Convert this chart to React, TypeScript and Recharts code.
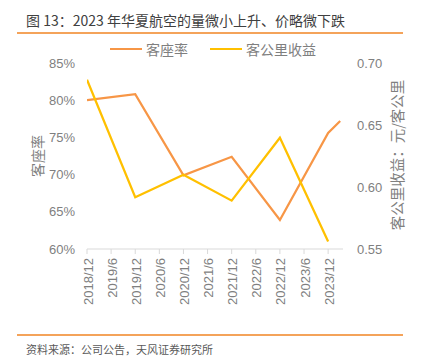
import React from 'react';
import { LineChart, Line, XAxis, YAxis } from 'recharts';

const periods = ['2018/12', '2019/12', '2020/12', '2021/12', '2022/12', '2023/12', '2024/3'];
const loadFactor = [80.0, 80.8, 69.9, 72.4, 63.9, 75.6, 77.2];
const yieldPerKm: (number | null)[] = [0.6865, 0.5917, 0.6098, 0.589, 0.6397, 0.5561, null];
const tickLabels = ['2018/12', '2019/6', '2019/12', '2020/6', '2020/12', '2021/6', '2021/12', '2022/6', '2022/12', '2023/6', '2023/12'];
const leftTicks = [60, 65, 70, 75, 80, 85];
const rightTicks = [0.55, 0.6, 0.65, 0.7];

const toMonth = (s: string) => {
  const [y, m] = s.split('/').map(Number);
  return (y - 2018) * 12 + m - 12;
};

const data = periods.map((p, i) => ({ m: toMonth(p), lf: loadFactor[i], yl: yieldPerKm[i] }));
const tickMonths = tickLabels.map(toMonth);
const labelByMonth: Record<number, string> = {};
tickLabels.forEach((l) => { labelByMonth[toMonth(l)] = l; });

const FONT = '"Liberation Sans", "Noto Sans CJK SC", sans-serif';
const CJK = '"Noto Sans CJK SC", "Liberation Sans", sans-serif';
const GRAY = '#7f7f7f';
const ORANGE = '#F79646';
const YELLOW = '#FFC000';

const XTick = (props: any) => {
  const { x, y, payload } = props;
  return (
    <text
      x={x + 1}
      y={y}
      transform={`rotate(-90 ${x + 1} ${y})`}
      textAnchor="end"
      dy="0.35em"
      fill={GRAY}
      fontSize={13}
      fontFamily={FONT}
    >
      {labelByMonth[payload.value]}
    </text>
  );
};

export default function App() {
  return (
    <div style={{ position: 'absolute', left: 0, top: 0, width: 422, height: 356, background: '#fff' }}>
      <div style={{ position: 'absolute', left: 26, top: 10, fontSize: 14, lineHeight: '20px', color: '#404040', fontFamily: CJK, whiteSpace: 'nowrap' }}>
        图 13：2023 年华夏航空的量微小上升、价略微下跌
      </div>
      <div style={{ position: 'absolute', left: 17, top: 32, width: 386, height: 2, background: '#F4A35A' }} />
      <LineChart
        width={422}
        height={356}
        data={data}
        margin={{ top: 63, right: 0, bottom: 0, left: 0 }}
      >
        <XAxis
          dataKey="m"
          type="number"
          domain={[0, 63.7]}
          ticks={tickMonths}
          interval={0}
          allowDataOverflow
          height={107}
          stroke="#d9d9d9"
          tickLine={{ stroke: '#d9d9d9' }}
          tickSize={5}
          tickMargin={4}
          tick={<XTick />}
        />
        <YAxis
          yAxisId="left"
          domain={[60, 85]}
          ticks={leftTicks}
          width={87}
          axisLine={false}
          tickLine={false}
          tickSize={0}
          tickMargin={12}
          tickFormatter={(v: number) => `${v}%`}
          tick={{ fill: GRAY, fontSize: 13, fontFamily: FONT }}
          label={{
            content: () => (
              <text x={37} y={156} transform="rotate(-90 37 156)" textAnchor="middle" dominantBaseline="central" fill={GRAY} fontSize={14} fontFamily={CJK}>
                客座率
              </text>
            ),
          }}
        />
        <YAxis
          yAxisId="right"
          orientation="right"
          domain={[0.55, 0.7]}
          ticks={rightTicks}
          width={79}
          axisLine={false}
          tickLine={false}
          tickSize={0}
          tickMargin={14}
          tickFormatter={(v: number) => v.toFixed(2)}
          tick={{ fill: GRAY, fontSize: 13, fontFamily: FONT }}
          label={{
            content: () => (
              <text x={396} y={155} transform="rotate(-90 396 155)" textAnchor="middle" dominantBaseline="central" fill={GRAY} fontSize={14.5} fontFamily={CJK}>
                客公里收益：元/客公里
              </text>
            ),
          }}
        />
        <Line yAxisId="left" type="linear" dataKey="lf" stroke={ORANGE} strokeWidth={2.25} dot={false} isAnimationActive={false} />
        <Line yAxisId="right" type="linear" dataKey="yl" stroke={YELLOW} strokeWidth={2.25} dot={false} isAnimationActive={false} connectNulls={false} />
      </LineChart>
      <div style={{ position: 'absolute', left: 110, top: 39, display: 'flex', alignItems: 'center', fontFamily: CJK, fontSize: 14, color: GRAY, whiteSpace: 'nowrap', lineHeight: '20px' }}>
        <span style={{ display: 'inline-block', width: 32, height: 2.5, background: ORANGE, marginRight: 4 }} />
        <span>客座率</span>
        <span style={{ display: 'inline-block', width: 32, height: 2.5, background: YELLOW, marginLeft: 22, marginRight: 4 }} />
        <span>客公里收益</span>
      </div>
      <div style={{ position: 'absolute', left: 17, top: 334, width: 386, height: 2, background: '#F4A35A' }} />
      <div style={{ position: 'absolute', left: 26, top: 341, fontSize: 11, lineHeight: '16px', color: '#595959', fontFamily: CJK, whiteSpace: 'nowrap' }}>
        资料来源：公司公告，天风证券研究所
      </div>
    </div>
  );
}
